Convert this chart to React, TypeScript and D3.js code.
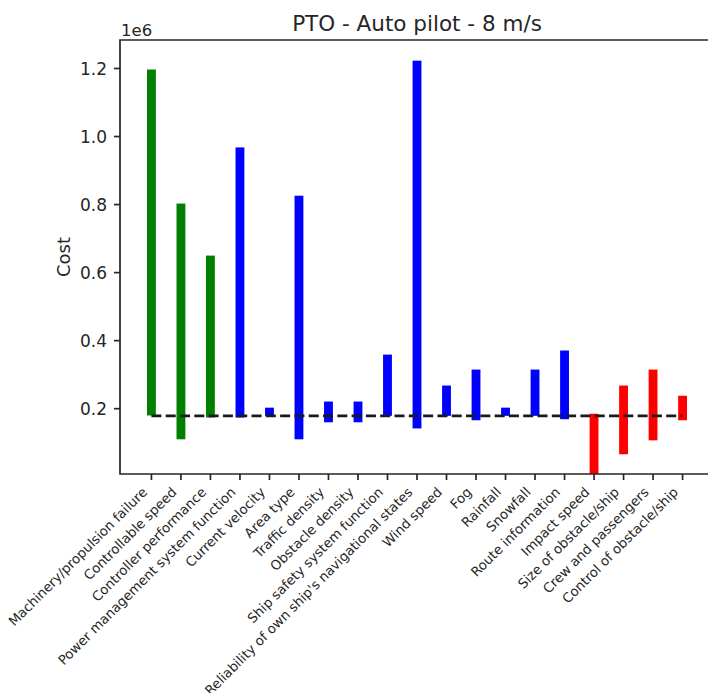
import React, { useEffect, useRef } from 'react';
import * as d3 from 'd3';

// values in units of 1e6
const categories = [
  'Machinery/propulsion failure',
  'Controllable speed',
  'Controller performance',
  'Power management system function',
  'Current velocity',
  'Area type',
  'Traffic density',
  'Obstacle density',
  'Ship safety system function',
  "Reliability of own ship's navigational states",
  'Wind speed',
  'Fog',
  'Rainfall',
  'Snowfall',
  'Route information',
  'Impact speed',
  'Size of obstacle/ship',
  'Crew and passengers',
  'Control of obstacle/ship',
];
const lowValues = [0.180, 0.110, 0.174, 0.174, 0.179, 0.110, 0.160, 0.160, 0.179, 0.142, 0.179, 0.166, 0.179, 0.179, 0.169, 0.008, 0.066, 0.107, 0.166];
const highValues = [1.197, 0.803, 0.650, 0.968, 0.203, 0.826, 0.221, 0.221, 0.359, 1.223, 0.268, 0.315, 0.203, 0.315, 0.371, 0.185, 0.268, 0.315, 0.238];
const groups = ['g', 'g', 'g', 'b', 'b', 'b', 'b', 'b', 'b', 'b', 'b', 'b', 'b', 'b', 'b', 'r', 'r', 'r', 'r'];
const baselineValue = 0.179;
const yTicks = [0.2, 0.4, 0.6, 0.8, 1.0, 1.2];

const groupColors: Record<string, string> = { g: 'green', b: 'blue', r: 'red' };

const App: React.FC = () => {
  const svgRef = useRef<SVGSVGElement>(null);

  useEffect(() => {
    document.body.style.margin = '0';
    if (!svgRef.current) return;
    const svg = d3.select(svgRef.current);
    svg.selectAll('*').remove();

    const width = 708;
    const height = 693;
    const margin = { top: 40, right: -6, bottom: 219, left: 120 };
    const ink = '#262626';
    const font = 'DejaVu Sans, sans-serif';
    const barWidth = 0.3;

    // matplotlib style autoscale with 5% margins
    const n = categories.length;
    const xSpan = (n - 1) + barWidth;
    const xScale = d3.scaleLinear()
      .domain([-barWidth / 2 - 0.05 * xSpan, n - 1 + barWidth / 2 + 0.05 * xSpan])
      .range([margin.left, width - margin.right]);

    const yMin = d3.min(lowValues) as number;
    const yMax = d3.max(highValues) as number;
    const yScale = d3.scaleLinear()
      .domain([yMin, yMax + 0.05 * (yMax - yMin)])
      .range([height - margin.bottom, margin.top]);

    const x0 = xScale.range()[0];
    const yBottom = yScale.range()[0];
    const yTop = yScale.range()[1];
    // the right spine sits past the figure edge, so spines stop at the edge
    const xEdge = width + 2;

    // bars
    svg.append('g')
      .selectAll('rect')
      .data(categories)
      .enter()
      .append('rect')
      .attr('x', (_, i) => xScale(i - barWidth / 2))
      .attr('width', xScale(barWidth) - xScale(0))
      .attr('y', (_, i) => yScale(highValues[i]))
      .attr('height', (_, i) => yScale(lowValues[i]) - yScale(highValues[i]))
      .attr('fill', (_, i) => groupColors[groups[i]]);

    // baseline
    svg.append('line')
      .attr('x1', xScale(0))
      .attr('x2', xScale(n - 1))
      .attr('y1', yScale(baselineValue))
      .attr('y2', yScale(baselineValue))
      .attr('stroke', '#1a1a1a')
      .attr('stroke-width', 2.6)
      .attr('stroke-dasharray', '10,4.3');

    // spines
    svg.append('path')
      .attr('d', `M${xEdge},${yTop}H${x0}V${yBottom}H${xEdge}`)
      .attr('fill', 'none')
      .attr('stroke', ink)
      .attr('stroke-width', 1.7);

    // y ticks
    const yg = svg.append('g');
    yTicks.forEach(t => {
      yg.append('line')
        .attr('x1', x0 - 6).attr('x2', x0)
        .attr('y1', yScale(t)).attr('y2', yScale(t))
        .attr('stroke', ink).attr('stroke-width', 1.7);
      yg.append('text')
        .attr('x', x0 - 13)
        .attr('y', yScale(t))
        .attr('dy', '0.36em')
        .attr('text-anchor', 'end')
        .style('font-family', font)
        .style('font-size', '17px')
        .style('fill', ink)
        .text(t.toFixed(1));
    });

    // x ticks
    const xg = svg.append('g');
    categories.forEach((c, i) => {
      const cx = xScale(i);
      xg.append('line')
        .attr('x1', cx).attr('x2', cx)
        .attr('y1', yBottom).attr('y2', yBottom + 6)
        .attr('stroke', ink).attr('stroke-width', 1.7);
      xg.append('text')
        .attr('transform', `translate(${cx - 3.5},${yBottom + 19}) rotate(-45)`)
        .attr('text-anchor', 'end')
        .style('font-family', font)
        .style('font-size', '13.3px')
        .style('fill', ink)
        .text(c);
    });

    // offset text, y label, title
    svg.append('text')
      .attr('x', x0 + 1)
      .attr('y', yTop - 4)
      .style('font-family', font)
      .style('font-size', '16.5px')
      .style('fill', ink)
      .text('1e6');

    svg.append('text')
      .attr('transform', `translate(70,${(yTop + yBottom) / 2}) rotate(-90)`)
      .attr('text-anchor', 'middle')
      .style('font-family', font)
      .style('font-size', '18px')
      .style('fill', ink)
      .text('Cost');

    svg.append('text')
      .attr('x', (x0 + xScale.range()[1]) / 2)
      .attr('y', 31)
      .attr('text-anchor', 'middle')
      .style('font-family', font)
      .style('font-size', '21.5px')
      .style('fill', ink)
      .text('PTO - Auto pilot - 8 m/s');
  }, []);

  return (
    <div style={{ width: 708, height: 693, overflow: 'hidden', position: 'relative' }}>
      <svg
        ref={svgRef}
        width={708}
        height={693}
        style={{ display: 'block', background: 'white' }}
      />
    </div>
  );
};

export default App;
